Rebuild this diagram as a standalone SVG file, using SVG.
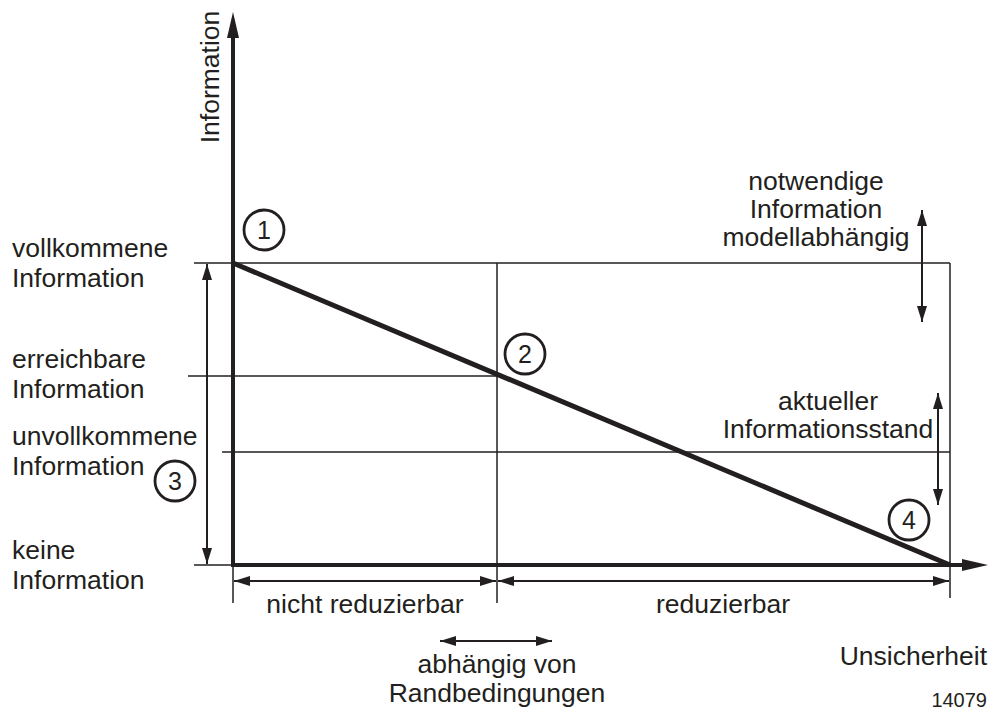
<svg xmlns="http://www.w3.org/2000/svg" width="994" height="718" viewBox="0 0 994 718">
<style>
.t{font-family:"Liberation Sans",Arial,sans-serif;font-size:26.5px;fill:#231f20}
.c{text-anchor:middle}
.thin{stroke:#231f20;stroke-width:1.5;fill:none}
.arr{stroke:#231f20;stroke-width:2;fill:none;marker-start:url(#ah);marker-end:url(#ah)}
.circ{stroke:#231f20;stroke-width:2.8;fill:#fff}
</style>
<defs>
<marker id="ah" markerWidth="16" markerHeight="12" refX="16" refY="6" orient="auto-start-reverse" markerUnits="userSpaceOnUse">
<path d="M0,1 L16,6 L0,11 Z" fill="#231f20"/>
</marker>
</defs>
<rect width="994" height="718" fill="#fff"/>
<g id="connectors">
<line class="thin" x1="194" y1="263" x2="950" y2="263"/>
<line class="thin" x1="188" y1="376" x2="497" y2="376"/>
<line class="thin" x1="222" y1="452" x2="950" y2="452"/>
<line class="thin" x1="194" y1="565" x2="233" y2="565"/>
<line class="thin" x1="950" y1="263" x2="950" y2="598"/>
<line class="thin" x1="497" y1="263" x2="497" y2="603"/>
<line class="thin" x1="233" y1="565" x2="233" y2="603"/>
<line class="arr" x1="207" y1="264" x2="207" y2="564"/>
<line class="arr" x1="922" y1="210" x2="922" y2="322"/>
<line class="arr" x1="938" y1="393" x2="938" y2="505"/>
<line class="arr" x1="234" y1="581" x2="496" y2="581"/>
<line class="arr" x1="498" y1="581" x2="949" y2="581"/>
<line class="arr" x1="440" y1="641" x2="552" y2="641"/>
<line x1="233" y1="263" x2="950" y2="565" stroke="#231f20" stroke-width="5"/>
<line x1="233" y1="567" x2="233" y2="36" stroke="#231f20" stroke-width="4"/>
<line x1="231" y1="565" x2="964" y2="565" stroke="#231f20" stroke-width="4"/>
<polygon points="233,12 227,38 239,38" fill="#231f20"/>
<polygon points="988,565 962,559 962,571" fill="#231f20"/>
</g>
<g id="axis-labels">
<text class="t c" transform="translate(219,77) rotate(-90)">Information</text>
<text class="t" x="987" y="665" text-anchor="end">Unsicherheit</text>
<text class="t" x="987" y="707" text-anchor="end" style="font-size:20px">14079</text>
</g>
<g id="left-labels">
<text class="t" x="12" y="257">vollkommene</text>
<text class="t" x="12" y="287">Information</text>
<text class="t" x="12" y="368">erreichbare</text>
<text class="t" x="12" y="398">Information</text>
<text class="t" x="12" y="445">unvollkommene</text>
<text class="t" x="12" y="475">Information</text>
<text class="t" x="12" y="559">keine</text>
<text class="t" x="12" y="589">Information</text>
</g>
<g id="right-labels">
<text class="t c" x="816" y="190">notwendige</text>
<text class="t c" x="816" y="218">Information</text>
<text class="t c" x="816" y="246">modellabhängig</text>
<text class="t c" x="828" y="410">aktueller</text>
<text class="t c" x="828" y="438">Informationsstand</text>
</g>
<g id="bottom-labels">
<text class="t c" x="365" y="613">nicht reduzierbar</text>
<text class="t c" x="723" y="613">reduzierbar</text>
<text class="t c" x="497" y="673">abhängig von</text>
<text class="t c" x="497" y="702">Randbedingungen</text>
</g>
<g id="n1"><circle class="circ" cx="264" cy="230" r="20"/><text class="t c" x="264" y="239" style="font-size:25px">1</text></g>
<g id="n2"><circle class="circ" cx="525" cy="354" r="20"/><text class="t c" x="525" y="363" style="font-size:25px">2</text></g>
<g id="n3"><circle class="circ" cx="175" cy="481" r="20"/><text class="t c" x="175" y="490" style="font-size:25px">3</text></g>
<g id="n4"><circle class="circ" cx="909" cy="520" r="20"/><text class="t c" x="909" y="529" style="font-size:25px">4</text></g>
</svg>
